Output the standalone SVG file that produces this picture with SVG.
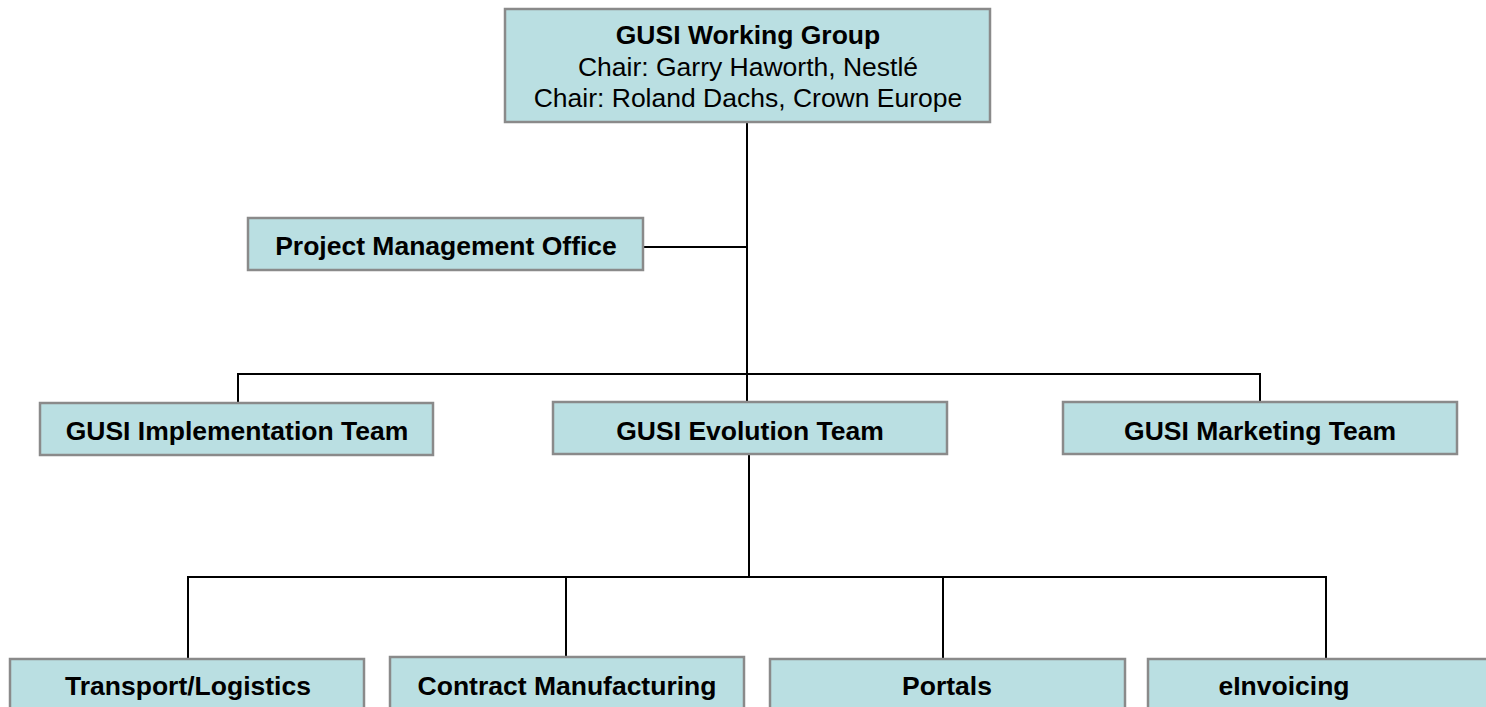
<svg xmlns="http://www.w3.org/2000/svg" width="1486" height="707" viewBox="0 0 1486 707">
<style>
.box{fill:#BADFE2;stroke:#8A8A8A;stroke-width:2.5}
.t{font-family:"Liberation Sans",Arial,sans-serif;font-size:26.5px;fill:#000;text-anchor:middle}
.b{font-weight:bold}
.c{fill:none;stroke:#000;stroke-width:2}
</style>
<rect width="1486" height="707" fill="#fff"/>
<g id="connectors">
<path class="c" d="M747 122V403M643 247H747M238 403V374H1260V403M749 453V577M188 659V577H1326V659M566 577V658M943 577V659"/>
</g>
<g id="node-working-group">
<rect class="box" x="505" y="9" width="485" height="113"/>
<text class="t b" x="748" y="44">GUSI Working Group</text>
<text class="t" x="748" y="76">Chair: Garry Haworth, Nestlé</text>
<text class="t" x="748" y="107">Chair: Roland Dachs, Crown Europe</text>
</g>
<g id="node-pmo">
<rect class="box" x="248" y="218" width="395" height="52"/>
<text class="t b" x="446" y="255">Project Management Office</text>
</g>
<g id="node-implementation">
<rect class="box" x="40" y="403" width="393" height="52"/>
<text class="t b" x="237" y="440">GUSI Implementation Team</text>
</g>
<g id="node-evolution">
<rect class="box" x="553" y="402" width="394" height="52"/>
<text class="t b" x="750" y="440">GUSI Evolution Team</text>
</g>
<g id="node-marketing">
<rect class="box" x="1063" y="402" width="394" height="52"/>
<text class="t b" x="1260" y="440">GUSI Marketing Team</text>
</g>
<g id="node-transport">
<rect class="box" x="10" y="659" width="354" height="70"/>
<text class="t b" x="188" y="695">Transport/Logistics</text>
</g>
<g id="node-contract">
<rect class="box" x="390" y="657" width="354" height="72"/>
<text class="t b" x="567" y="695">Contract Manufacturing</text>
</g>
<g id="node-portals">
<rect class="box" x="770" y="659" width="355" height="70"/>
<text class="t b" x="947" y="695">Portals</text>
</g>
<g id="node-einvoicing">
<rect class="box" x="1148" y="659" width="356" height="70"/>
<text class="t b" x="1284" y="695">eInvoicing</text>
</g>
</svg>
